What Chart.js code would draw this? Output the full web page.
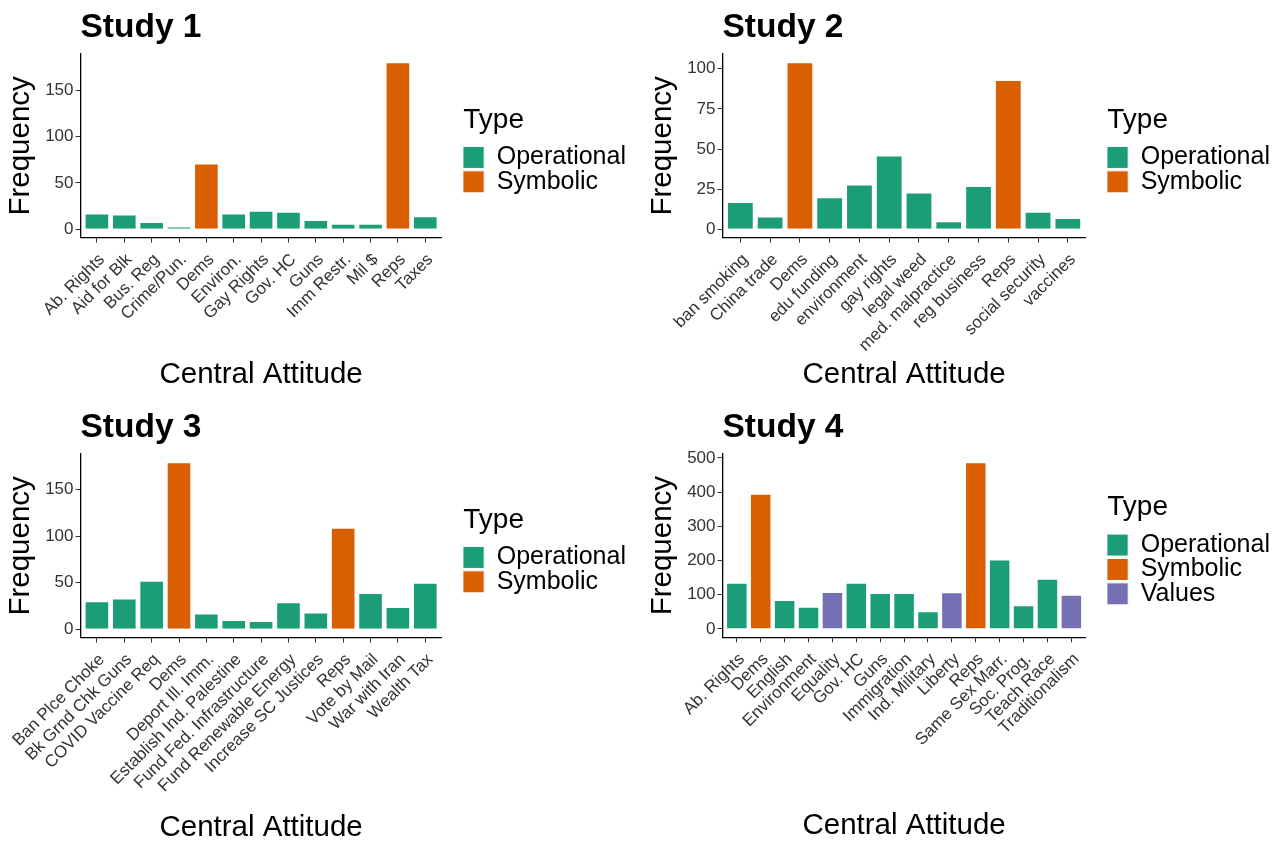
<!DOCTYPE html>
<html>
<head>
<meta charset="utf-8">
<title>Central attitude frequencies by study</title>
<script src="https://cdn.jsdelivr.net/npm/chart.js@4.4.1/dist/chart.umd.min.js"></script>
<style>
  html, body { margin: 0; padding: 0; background: #ffffff; }
  body { width: 1286px; height: 844px; position: relative; overflow: hidden; }
  canvas { position: absolute; }
</style>
</head>
<body>
<canvas id="study1" width="642" height="400" style="left:0px;top:0px"></canvas>
<canvas id="study2" width="644" height="400" style="left:642px;top:0px"></canvas>
<canvas id="study3" width="642" height="444" style="left:0px;top:400px"></canvas>
<canvas id="study4" width="644" height="444" style="left:642px;top:400px"></canvas>
<script>
// ---- Study 1 ----
const study1Labels = ["Ab. Rights", "Aid for Blk", "Bus. Reg", "Crime/Pun.", "Dems", "Environ.",
  "Gay Rights", "Gov. HC", "Guns", "Imm Restr.", "Mil $", "Reps", "Taxes"];
const study1Counts = [17, 16, 8, 3, 71, 17, 20, 19, 10, 6, 6, 180, 14];
const study1Types = ["Operational", "Operational", "Operational", "Operational", "Symbolic", "Operational",
  "Operational", "Operational", "Operational", "Operational", "Operational", "Symbolic", "Operational"];
const study1Ticks = [0, 50, 100, 150];

// ---- Study 2 ----
const study2Labels = ["ban smoking", "China trade", "Dems", "edu funding", "environment", "gay rights",
  "legal weed", "med. malpractice", "reg business", "Reps", "social security", "vaccines"];
const study2Counts = [17, 8, 104, 20, 28, 46, 23, 5, 27, 93, 11, 7];
const study2Types = ["Operational", "Operational", "Symbolic", "Operational", "Operational", "Operational",
  "Operational", "Operational", "Operational", "Symbolic", "Operational", "Operational"];
const study2Ticks = [0, 25, 50, 75, 100];

// ---- Study 3 ----
const study3Labels = ["Ban Plce Choke", "Bk Grnd Chk Guns", "COVID Vaccine Req", "Dems", "Deport Ill. Imm.",
  "Establish Ind. Palestine", "Fund Fed. Infrastructure", "Fund Renewable Energy", "Increase SC Justices",
  "Reps", "Vote by Mail", "War with Iran", "Wealth Tax"];
const study3Counts = [30, 33, 52, 179, 17, 10, 9, 29, 18, 109, 39, 24, 50];
const study3Types = ["Operational", "Operational", "Operational", "Symbolic", "Operational",
  "Operational", "Operational", "Operational", "Operational",
  "Symbolic", "Operational", "Operational", "Operational"];
const study3Ticks = [0, 50, 100, 150];

// ---- Study 4 ----
const study4Labels = ["Ab. Rights", "Dems", "English", "Environment", "Equality", "Gov. HC", "Guns",
  "Immigration", "Ind. Military", "Liberty", "Reps", "Same Sex Marr.", "Soc. Prog.", "Teach Race",
  "Traditionalism"];
const study4Counts = [135, 395, 85, 65, 108, 135, 105, 105, 52, 107, 487, 203, 69, 147, 100];
const study4Types = ["Operational", "Symbolic", "Operational", "Operational", "Values", "Operational", "Operational",
  "Operational", "Operational", "Values", "Symbolic", "Operational", "Operational", "Operational",
  "Values"];
const study4Ticks = [0, 100, 200, 300, 400, 500];

// Dark2 palette, one colour per attitude type
const typeOrder = ["Operational", "Symbolic", "Values"];
const typeColors = { Operational: "#1B9E77", Symbolic: "#D95F02", Values: "#7570B3" };

Chart.defaults.font.family = '"Liberation Sans", Arial, Helvetica, sans-serif';
Chart.defaults.color = "#000000";

function buildDatasets(labels, counts, types) {
  return typeOrder.filter(t => types.includes(t)).map(t => ({
    label: t,
    data: labels.map((name, i) => (types[i] === t ? { x: i + 1, y: counts[i] } : null)).filter(Boolean),
    backgroundColor: typeColors[t],
    borderColor: "#ffffff",
    borderWidth: 1,
    grouped: false,
    barPercentage: 0.9,
    categoryPercentage: 1
  }));
}

// Pins the plot panel to a fixed frame and sets the legend beside it
const panelFrame = {
  id: "panelFrame",
  beforeLayout(chart, args, opts) {
    const lg = chart.legend;
    if (lg && !lg._frameFit) {
      const baseFit = lg.fit;
      lg.fit = function () {
        baseFit.call(this);
        this.width = chart.width - opts.right;
      };
      lg._frameFit = true;
    }
  },
  afterLayout(chart, args, opts) {
    const lg = chart.legend;
    const area = chart.chartArea;
    if (!lg) return;
    lg.left = area.right + opts.legendGap;
    lg.right = lg.left + lg.width;
    lg.top = area.top + opts.legendDrop;
    lg.bottom = area.bottom + opts.legendDrop;
    lg.height = area.bottom - area.top;
  }
};

function drawStudy(canvasId, title, labels, counts, types, yTicks, frame) {
  const peak = Math.max(...counts);
  const axisGrid = {
    display: true,
    drawOnChartArea: false,
    drawTicks: true,
    tickLength: 5,
    offset: false,
    color: "#333333",
    lineWidth: 1
  };
  const axisBorder = { display: true, color: "#000000", width: 1.3 };
  const canvas = document.getElementById(canvasId);

  return new Chart(canvas, {
    type: "bar",
    data: { datasets: buildDatasets(labels, counts, types) },
    plugins: [panelFrame],
    options: {
      responsive: false,
      animation: false,
      events: [],
      layout: { padding: 0 },
      scales: {
        x: {
          type: "linear",
          offset: false,
          min: 0.4,
          max: labels.length + 0.6,
          afterBuildTicks: s => { s.ticks = labels.map((_, i) => ({ value: i + 1 })); },
          afterFit: s => { s.height = canvas.height - frame.bottom; },
          ticks: {
            autoSkip: false,
            minRotation: 45,
            maxRotation: 45,
            padding: 7,
            labelOffset: 5,
            color: "#333333",
            font: { size: 17 },
            callback: v => labels[v - 1]
          },
          grid: axisGrid,
          border: axisBorder,
          title: {
            display: true,
            text: "Central Attitude",
            color: "#000000",
            font: { size: 29.5 },
            padding: { top: 0, bottom: frame.xTitlePad }
          }
        },
        y: {
          type: "linear",
          min: -0.05 * peak,
          max: 1.05 * peak,
          afterBuildTicks: s => { s.ticks = yTicks.map(v => ({ value: v })); },
          afterFit: s => { s.width = frame.left; },
          ticks: {
            padding: 2,
            color: "#333333",
            font: { size: 17 }
          },
          grid: axisGrid,
          border: axisBorder,
          title: {
            display: true,
            text: "Frequency",
            color: "#000000",
            font: { size: 29.5 },
            padding: { top: frame.yTitlePad, bottom: 0 }
          }
        }
      },
      plugins: {
        panelFrame: { right: frame.right, legendGap: 21.6, legendDrop: 4 },
        title: {
          display: true,
          text: title,
          align: "start",
          fullSize: false,
          color: "#000000",
          font: { size: 33.5, weight: "bold" },
          padding: { top: 7.6, bottom: 6.2 }
        },
        legend: {
          display: true,
          position: "right",
          align: "center",
          fullSize: false,
          title: {
            display: true,
            text: "Type",
            position: "start",
            color: "#000000",
            font: { size: 28 },
            padding: { top: 0, bottom: 6 }
          },
          labels: {
            boxWidth: 21.5,
            boxHeight: 22,
            padding: -0.6,
            color: "#000000",
            font: { size: 25 }
          }
        },
        tooltip: { enabled: false }
      }
    }
  });
}

drawStudy("study1", "Study 1", study1Labels, study1Counts, study1Types, study1Ticks,
  { left: 80.5, right: 441.7, bottom: 237.7, xTitlePad: 7.5, yTitlePad: 3.4 });
drawStudy("study2", "Study 2", study2Labels, study2Counts, study2Types, study2Ticks,
  { left: 80.5, right: 443.7, bottom: 237.7, xTitlePad: 7, yTitlePad: 3.1 });
drawStudy("study3", "Study 3", study3Labels, study3Counts, study3Types, study3Ticks,
  { left: 80.5, right: 441.7, bottom: 237.7, xTitlePad: -1.7, yTitlePad: 3.4 });
drawStudy("study4", "Study 4", study4Labels, study4Counts, study4Types, study4Ticks,
  { left: 80.5, right: 443.7, bottom: 237.3, xTitlePad: 0.3, yTitlePad: 3.1 });
</script>
</body>
</html>
